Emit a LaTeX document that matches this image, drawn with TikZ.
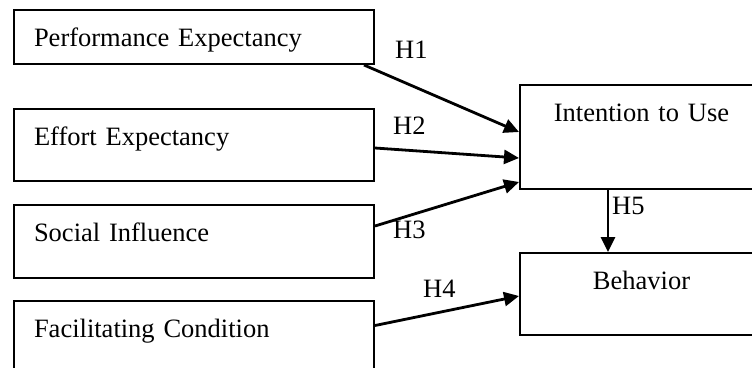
\documentclass[tikz,border=0pt]{standalone}
\usepackage{fontspec}
\setmainfont{Liberation Serif}
\usetikzlibrary{arrows.meta}
\tikzset{
  construct/.style={draw, line width=2pt, anchor=north west, inner ysep=0pt,
    text height=36pt, font=\fontsize{26.5}{32}\selectfont},
  leftbox/.style={construct, inner xsep=20pt, text width=320pt, align=left},
  rightbox/.style={construct, inner xsep=0pt, text width=243pt, align=center},
  hyp/.style={-{Triangle[length=15pt,width=14pt]}, line width=2.8pt},
  hlabel/.style={anchor=base west, inner sep=0pt, font=\fontsize{26.5}{32}\selectfont}
}
\begin{document}
\begin{tikzpicture}[x=1pt,y=-1pt]
  \useasboundingbox (0,0) rectangle (752,367);
  \clip (0,0) rectangle (752,367);
  % constructs
  \node[leftbox, text depth=18pt] (pe) at (13,9) {Performance Expectancy};
  \node[leftbox, text depth=36pt] (ee) at (13,108) {Effort Expectancy};
  \node[leftbox, text depth=37pt] (si) at (13,204) {Social Influence};
  \node[leftbox, text depth=40pt] (fc) at (13,300) {Facilitating Condition};
  \node[rightbox, text depth=68pt] (iu) at (519,84) {Intention to Use};
  \node[rightbox, text depth=46pt] (beh) at (519,252) {Behavior};
  % hypotheses
  \draw[hyp] ([xshift=-11pt]pe.south east) -- ([yshift=5pt]iu.west);
  \draw[hyp] ([yshift=-3pt]ee.east) -- ([yshift=-21pt]iu.west);
  \draw[hyp] ([yshift=15.5pt]si.east) -- ([yshift=-45pt]iu.west);
  \draw[hyp] ([yshift=13.5pt]fc.east) -- ([yshift=-2pt]beh.west);
  \draw[hyp] ([xshift=-33.5pt]iu.south) -- ([xshift=-33.5pt]beh.north);
  \node[hlabel] (h1) at (395,58) {H1};
  \node[hlabel] (h2) at (393,134) {H2};
  \node[hlabel] (h3) at (393,238) {H3};
  \node[hlabel] (h4) at (423,297) {H4};
  \node[hlabel] (h5) at (612,214) {H5};
\end{tikzpicture}
\end{document}
